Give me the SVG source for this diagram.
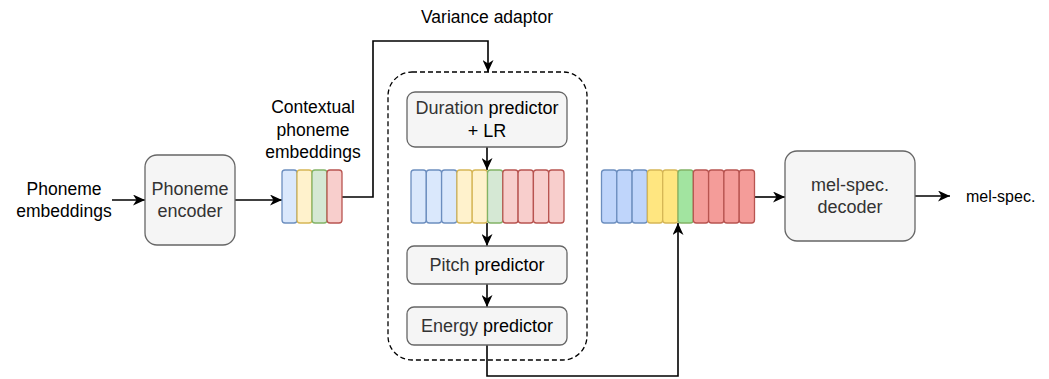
<svg xmlns="http://www.w3.org/2000/svg" width="1049" height="379" viewBox="0 0 1049 379">
  <defs>
    <marker id="arrow" markerUnits="userSpaceOnUse" markerWidth="13" markerHeight="11" refX="12" refY="5.5" orient="auto">
      <path d="M0,0 L12,5.5 L0,11 L3.5,5.5 Z" fill="#000"/>
    </marker>
    <style>
      text { font-family: "Liberation Sans", Arial, sans-serif; font-size: 17.5px; fill: #000; text-anchor: middle; }
      .in { font-size: 18px; }
      .grey { fill: #333333; }
      .box { fill: #f5f5f5; stroke: #666666; stroke-width: 1.3; }
      .edge { fill: none; stroke: #000; stroke-width: 1.6; }
      .frame { fill: none; stroke: #000; stroke-width: 1.3; stroke-dasharray: 5 3; }
      .cell { stroke-width: 1.3; }
      .b1 { fill: #dae8fc; stroke: #6c8ebf; }
      .y1 { fill: #fff2cc; stroke: #d6b656; }
      .g1 { fill: #d5e8d4; stroke: #82b366; }
      .r1 { fill: #f8cecc; stroke: #b85450; }
      .b2 { fill: #bfd5fb; stroke: #6c8ebf; }
      .y2 { fill: #ffe680; stroke: #d6b656; }
      .g2 { fill: #a2e4a0; stroke: #82b366; }
      .r2 { fill: #f49c99; stroke: #b85450; }
    </style>
  </defs>

  <rect width="1049" height="379" fill="#ffffff"/>

  <!-- connectors -->
  <g id="connectors">
    <path class="edge" d="M112,200 L145,200" marker-end="url(#arrow)"/>
    <path class="edge" d="M235,200 L282,200" marker-end="url(#arrow)"/>
    <path class="edge" d="M342,197 L373,197 L373,41 L488,41 L488,72" marker-end="url(#arrow)"/>
    <path class="edge" d="M487,147 L487,170" marker-end="url(#arrow)"/>
    <path class="edge" d="M487,223 L487,246" marker-end="url(#arrow)"/>
    <path class="edge" d="M487,284 L487,307" marker-end="url(#arrow)"/>
    <path class="edge" d="M487,345 L487,376 L678,376 L678,223" marker-end="url(#arrow)"/>
    <path class="edge" d="M754,197 L785,197" marker-end="url(#arrow)"/>
    <path class="edge" d="M915,196 L950,196" marker-end="url(#arrow)"/>
  </g>

  <!-- input label -->
  <g id="phoneme-embeddings">
    <text x="64" y="195">Phoneme</text>
    <text x="64" y="217">embeddings</text>
  </g>

  <!-- encoder -->
  <g id="phoneme-encoder">
    <rect class="box" x="145" y="155" width="90" height="90" rx="12"/>
    <text class="in grey" x="190" y="195">Phoneme</text>
    <text class="in grey" x="190" y="217">encoder</text>
  </g>

  <!-- contextual embeddings: one cell per phoneme -->
  <g id="contextual-embeddings">
    <rect class="cell b1" x="282" y="170" width="15" height="53" rx="3"/>
    <rect class="cell y1" x="297" y="170" width="15" height="53" rx="3"/>
    <rect class="cell g1" x="312" y="170" width="15" height="53" rx="3"/>
    <rect class="cell r1" x="327" y="170" width="15" height="53" rx="3"/>
  </g>
  <g id="contextual-label">
    <text x="313" y="113">Contextual</text>
    <text x="313" y="136">phoneme</text>
    <text x="313" y="158">embeddings</text>
  </g>

  <!-- variance adaptor -->
  <g id="variance-adaptor">
    <rect class="frame" x="388" y="72" width="199" height="288" rx="24"/>
    <text x="487" y="23">Variance adaptor</text>
  </g>

  <g id="duration-predictor">
    <rect class="box" x="407" y="92" width="160" height="55" rx="8"/>
    <text class="in" x="487" y="114"><tspan class="grey">Duration</tspan> predictor</text>
    <text class="in" x="487" y="137">+ LR</text>
  </g>

  <!-- length-regulated sequence -->
  <g id="expanded-embeddings">
    <rect class="cell b1" x="411" y="170" width="15.3" height="53" rx="3"/>
    <rect class="cell b1" x="426.3" y="170" width="15.3" height="53" rx="3"/>
    <rect class="cell b1" x="441.6" y="170" width="15.3" height="53" rx="3"/>
    <rect class="cell y1" x="456.9" y="170" width="15.3" height="53" rx="3"/>
    <rect class="cell y1" x="472.2" y="170" width="15.3" height="53" rx="3"/>
    <rect class="cell g1" x="487.5" y="170" width="15.3" height="53" rx="3"/>
    <rect class="cell r1" x="502.8" y="170" width="15.3" height="53" rx="3"/>
    <rect class="cell r1" x="518.1" y="170" width="15.3" height="53" rx="3"/>
    <rect class="cell r1" x="533.4" y="170" width="15.3" height="53" rx="3"/>
    <rect class="cell r1" x="548.7" y="170" width="15.3" height="53" rx="3"/>
  </g>

  <g id="pitch-predictor">
    <rect class="box" x="407" y="246" width="160" height="38" rx="7"/>
    <text class="in" x="487" y="271"><tspan class="grey">Pitch</tspan> predictor</text>
  </g>

  <g id="energy-predictor">
    <rect class="box" x="407" y="307" width="160" height="38" rx="7"/>
    <text class="in" x="487" y="332"><tspan class="grey">Energy</tspan> predictor</text>
  </g>

  <!-- adapted sequence -->
  <g id="adapted-embeddings">
    <rect class="cell b2" x="601.5" y="170" width="15.3" height="53" rx="3"/>
    <rect class="cell b2" x="616.8" y="170" width="15.3" height="53" rx="3"/>
    <rect class="cell b2" x="632.1" y="170" width="15.3" height="53" rx="3"/>
    <rect class="cell y2" x="647.4" y="170" width="15.3" height="53" rx="3"/>
    <rect class="cell y2" x="662.7" y="170" width="15.3" height="53" rx="3"/>
    <rect class="cell g2" x="678" y="170" width="15.3" height="53" rx="3"/>
    <rect class="cell r2" x="693.3" y="170" width="15.3" height="53" rx="3"/>
    <rect class="cell r2" x="708.6" y="170" width="15.3" height="53" rx="3"/>
    <rect class="cell r2" x="723.9" y="170" width="15.3" height="53" rx="3"/>
    <rect class="cell r2" x="739.2" y="170" width="15.3" height="53" rx="3"/>
  </g>

  <g id="mel-decoder">
    <rect class="box" x="785" y="151" width="130" height="90" rx="12"/>
    <text class="in grey" x="850" y="191">mel-spec.</text>
    <text class="in grey" x="850" y="213">decoder</text>
  </g>

  <g id="mel-output">
    <text x="966" y="202" style="text-anchor:start; font-size:16px">mel-spec.</text>
  </g>
</svg>
